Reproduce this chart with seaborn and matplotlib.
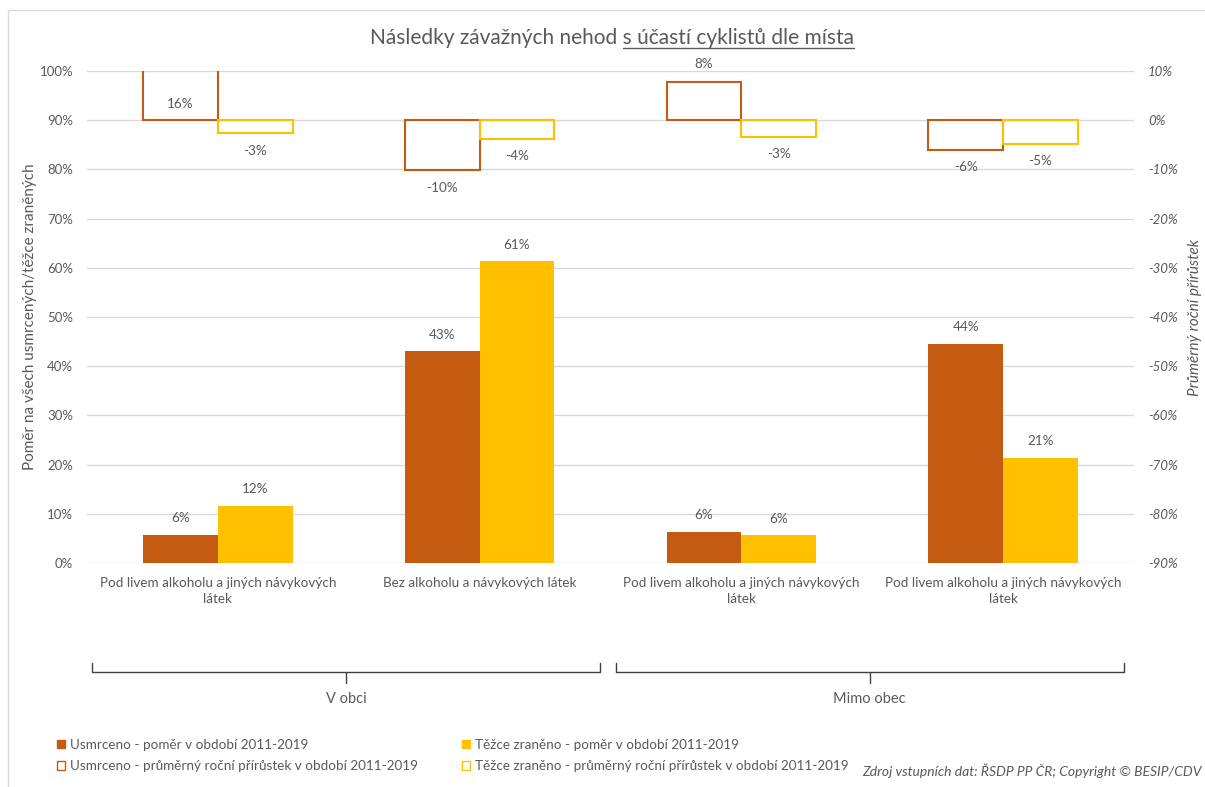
import numpy as np
import pandas as pd
import matplotlib
matplotlib.use("Agg")
import matplotlib.pyplot as plt
import seaborn as sns
from matplotlib.patches import Patch, Rectangle
from matplotlib.lines import Line2D
import matplotlib.transforms as mtransforms
from matplotlib.ticker import FuncFormatter

# ---------------- data ----------------
category_keys = ["obec_alk", "obec_bez", "mimo_alk", "mimo_bez"]
tick_labels = ["Pod livem alkoholu a jiných návykových\nlátek",
               "Bez alkoholu a návykových látek",
               "Pod livem alkoholu a jiných návykových\nlátek",
               "Pod livem alkoholu a jiných návykových\nlátek"]
groups = ["V obci", "Mimo obec"]
group_of_category = [0, 0, 1, 1]

s_usm_pomer = "Usmrceno - poměr v období 2011-2019"
s_tez_pomer = "Těžce zraněno - poměr v období 2011-2019"
s_usm_prir = "Usmrceno - průměrný roční přírůstek v období 2011-2019"
s_tez_prir = "Těžce zraněno - průměrný roční přírůstek v období 2011-2019"

usm_pomer = [0.057, 0.430, 0.063, 0.445]
tez_pomer = [0.116, 0.613, 0.056, 0.214]
usm_prir = [0.16, -0.102, 0.078, -0.060]
tez_prir = [-0.027, -0.038, -0.034, -0.048]

title_main = "Následky závažných nehod "
title_underlined = "s účastí cyklistů dle místa"
ylabel_left = "Poměr na všech usmrcených/těžce zraněných"
ylabel_right = "Průměrný roční přírůstek"
source_text = "Zdroj vstupních dat: ŘSDP PP ČR; Copyright © BESIP/CDV"

c_usm = "#C55A11"
c_tez = "#FFC000"
c_text = "#595959"
c_grid = "#D9D9D9"

# ---------------- style ----------------
sns.set_theme(style="white")
plt.rcParams["font.family"] = ["Lato", "DejaVu Sans"]
plt.rcParams["text.color"] = c_text
plt.rcParams["axes.labelcolor"] = c_text
plt.rcParams["xtick.color"] = c_text
plt.rcParams["ytick.color"] = c_text

W, H = 1205, 787
fig = plt.figure(figsize=(W / 100, H / 100), dpi=100)
fig.patch.set_facecolor("white")

ax_l, ax_r, ax_t, ax_b = 87, 1134, 71, 563
ax = fig.add_axes([ax_l / W, 1 - ax_b / H, (ax_r - ax_l) / W, (ax_b - ax_t) / H])

df1 = pd.DataFrame({
    "key": category_keys * 2,
    "series": [s_usm_pomer] * 4 + [s_tez_pomer] * 4,
    "value": usm_pomer + tez_pomer,
})
df2 = pd.DataFrame({
    "key": category_keys * 2,
    "series": [s_usm_prir] * 4 + [s_tez_prir] * 4,
    "value": usm_prir + tez_prir,
})

sns.barplot(data=df1, x="key", y="value", hue="series", order=category_keys,
            hue_order=[s_usm_pomer, s_tez_pomer], palette=[c_usm, c_tez],
            width=0.572, gap=0, saturation=1, errorbar=None, linewidth=0,
            legend=False, ax=ax)

ax2 = ax.twinx()
sns.barplot(data=df2, x="key", y="value", hue="series", order=category_keys,
            hue_order=[s_usm_prir, s_tez_prir], palette=[c_usm, c_tez],
            width=0.572, gap=0, saturation=1, errorbar=None, fill=False,
            linewidth=1.5, legend=False, ax=ax2)

fs = 9.7
pct = FuncFormatter(lambda v, pos: f"{int(round(v * 100))}%")
for a in (ax, ax2):
    a.set_xlim(-0.5, 3.5)
    for s in a.spines.values():
        s.set_visible(False)
    a.tick_params(length=0)
    a.set_xlabel("")
ax.set_ylim(0, 1)
ax2.set_ylim(-0.9, 0.1)
ax.set_yticks(np.round(np.arange(0, 1.01, 0.1), 2))
ax2.set_yticks(np.round(np.arange(-0.9, 0.11, 0.1), 2))
ax.yaxis.set_major_formatter(pct)
ax2.yaxis.set_major_formatter(pct)
ax.tick_params(axis="y", pad=10, labelsize=9.5)
ax2.tick_params(axis="y", pad=10, labelsize=9.5)
for lab in ax2.get_yticklabels():
    lab.set_fontstyle("italic")
ax.set_xticks(range(len(category_keys)))
ax.set_xticklabels(tick_labels, fontsize=fs)
for lab in ax.get_xticklabels():
    lab.set_linespacing(1.45)
ax.tick_params(axis="x", pad=10)
ax.grid(axis="y", color=c_grid, linewidth=1)
ax.grid(axis="x", visible=False)
ax2.grid(False)
ax.set_axisbelow(True)

ax.set_ylabel(ylabel_left, fontsize=11, rotation=90, va="center", ha="center")
ax.yaxis.set_label_coords((30 - ax_l) / (ax_r - ax_l), 0.5)
ax2.set_ylabel(ylabel_right, fontsize=11, rotation=90, va="center", ha="center",
               fontstyle="italic")
ax2.yaxis.set_label_coords((1195 - ax_l) / (ax_r - ax_l), 0.5)

# ---------------- data labels ----------------
def fmt(v):
    return f"{int(round(v * 100))}%"

for cont, vals in zip(ax.containers, [usm_pomer, tez_pomer]):
    for rect, v in zip(cont.patches, vals):
        x = rect.get_x() + rect.get_width() / 2
        ax.annotate(fmt(v), (x, rect.get_height()), xytext=(0, 12),
                    textcoords="offset points", ha="center", va="center",
                    fontsize=fs, color=c_text)

ymax2 = ax2.get_ylim()[1]
for cont, vals in zip(ax2.containers, [usm_prir, tez_prir]):
    for rect, v in zip(cont.patches, vals):
        x = rect.get_x() + rect.get_width() / 2
        if v > ymax2:
            ax2.annotate(fmt(v), (x, ymax2 * 0.32), ha="center", va="center",
                         fontsize=fs, color=c_text)
        else:
            off = 12.5 if v >= 0 else -12.5
            ax2.annotate(fmt(v), (x, rect.get_y() + rect.get_height()),
                         xytext=(0, off), textcoords="offset points",
                         ha="center", va="center", fontsize=fs, color=c_text)

# ---------------- group brackets ----------------
trans = mtransforms.blended_transform_factory(ax.transData, ax.transAxes)
y_br = (ax_b - 672) / (ax_b - ax_t)
y_up = (ax_b - 663) / (ax_b - ax_t)
y_dn = (ax_b - 683) / (ax_b - ax_t)
y_gl = (ax_b - 699) / (ax_b - ax_t)
for gi, gname in enumerate(groups):
    idx = [i for i, g in enumerate(group_of_category) if g == gi]
    x0 = min(idx) - 0.5 + 0.02
    x1 = max(idx) + 0.5 - 0.04
    xm = (x0 + x1) / 2
    ax.add_line(Line2D([x0, x0, x1, x1], [y_up, y_br, y_br, y_up], transform=trans,
                       clip_on=False, color="#404040", lw=1))
    ax.add_line(Line2D([xm, xm], [y_br, y_dn], transform=trans,
                       clip_on=False, color="#404040", lw=1))
    ax.text(xm, y_gl, gname, transform=trans, ha="center", va="center",
            fontsize=10.5, color=c_text)

# ---------------- legends ----------------
h_usm_pomer = Patch(facecolor=c_usm, edgecolor=c_usm, label=s_usm_pomer)
h_tez_pomer = Patch(facecolor=c_tez, edgecolor=c_tez, label=s_tez_pomer)
h_usm_prir = Patch(facecolor="white", edgecolor=c_usm, linewidth=1, label=s_usm_prir)
h_tez_prir = Patch(facecolor="white", edgecolor=c_tez, linewidth=1, label=s_tez_prir)

leg_kw = dict(loc="center left", frameon=False, borderaxespad=0, borderpad=0,
              handlelength=0.6, handleheight=0.6, handletextpad=0.35,
              labelspacing=0.72, fontsize=fs, labelcolor=c_text,
              bbox_transform=fig.transFigure)
leg1 = fig.legend(handles=[h_usm_pomer, h_usm_prir],
                  bbox_to_anchor=(57 / W, 1 - 755.5 / H), **leg_kw)
leg2 = fig.legend(handles=[h_tez_pomer, h_tez_prir],
                  bbox_to_anchor=(462 / W, 1 - 755.5 / H), **leg_kw)

# ---------------- source ----------------
fig.text(1202 / W, 1 - 771 / H, source_text, ha="right", va="center",
         fontsize=10, fontstyle="italic", color=c_text)

# ---------------- title with partial underline ----------------
tfs = 15
full_title = title_main + title_underlined
t = fig.text(612 / W, 1 - 44 / H, full_title, ha="center", va="baseline",
             fontsize=tfs, color=c_text)
renderer = fig.canvas.get_renderer()
bb_full = t.get_window_extent(renderer)
tmp = fig.text(0, 0, title_underlined, fontsize=tfs)
bb_u = tmp.get_window_extent(renderer)
tmp.remove()
x_right = bb_full.x1
x_left = x_right - bb_u.width
y_line = H - 47.5
fig.add_artist(Line2D([x_left / W, x_right / W], [y_line / H, y_line / H],
                      transform=fig.transFigure, color=c_text, lw=1))

# ---------------- chart border ----------------
fig.add_artist(Rectangle((8 / W, -0.05), 1.2, (1 - 10 / H) + 0.05,
                         transform=fig.transFigure, fill=False,
                         edgecolor=c_grid, linewidth=1))

fig.savefig("out.png", dpi=100, facecolor="white")
